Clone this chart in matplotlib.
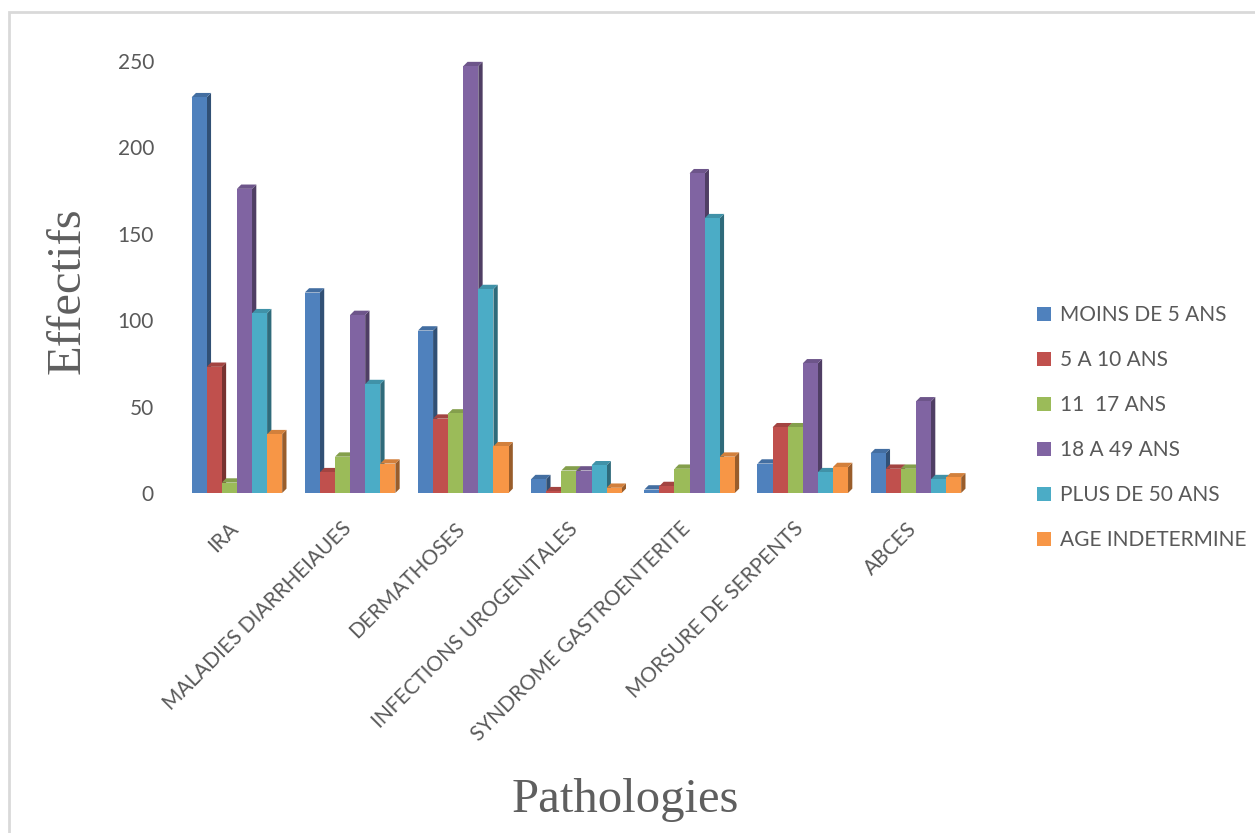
import numpy as np
import matplotlib
matplotlib.use('Agg')
import matplotlib.pyplot as plt
import matplotlib.transforms as mtransforms
from matplotlib.patches import Polygon, Rectangle, Patch
from matplotlib.colors import to_rgb

plt.rcParams['font.family'] = ['Lato', 'DejaVu Sans']

pathologies = ['IRA', 'MALADIES DIARRHEIAUES', 'DERMATHOSES', 'INFECTIONS UROGENITALES',
               'SYNDROME GASTROENTERITE', 'MORSURE DE SERPENTS', 'ABCES']
age_groups = ['MOINS DE 5 ANS', '5 A 10 ANS', '11  17 ANS', '18 A 49 ANS',
              'PLUS DE 50 ANS', 'AGE INDETERMINE']

moins_5 = [229, 116, 94, 8, 2, 17, 23]
de_5_a_10 = [73, 12, 43, 1, 4, 38, 14]
de_11_a_17 = [6, 21, 46, 13, 14, 38, 14]
de_18_a_49 = [176, 103, 247, 13, 185, 75, 53]
plus_50 = [104, 63, 118, 16, 159, 12, 8]
indetermine = [34, 17, 27, 3, 21, 15, 9]
series = [moins_5, de_5_a_10, de_11_a_17, de_18_a_49, plus_50, indetermine]

colors = ['#4F81BD', '#C0504D', '#9BBB59', '#8064A2', '#4BACC6', '#F79646']
text_gray = '#595959'


def shade(c, k):
    r, g, b = to_rgb(c)
    return (r * k, g * k, b * k)


fig = plt.figure(figsize=(12.55, 8.33), dpi=100)
ax = fig.add_axes([0.1437, 0.4082, 0.6312, 0.5186])

n = len(series)
group = 0.8
w = group / n
depth_x = 0.038   # fake 3d depth, data units
depth_y = 2.5
x = np.arange(len(pathologies))

for j in range(len(pathologies)):
    for i in range(n):
        v = series[i][j]
        left = x[j] - group / 2 + i * w
        c = colors[i]
        ax.add_patch(Polygon([(left + w, 0), (left + w, v), (left + w + depth_x, v + depth_y),
                              (left + w + depth_x, depth_y)], closed=True,
                             facecolor=shade(c, 0.62), edgecolor='none', clip_on=False))
        ax.add_patch(Polygon([(left, v), (left + w, v), (left + w + depth_x, v + depth_y),
                              (left + depth_x, v + depth_y)], closed=True,
                             facecolor=shade(c, 0.85), edgecolor='none', clip_on=False))
        ax.add_patch(Rectangle((left, 0), w, v, facecolor=c, edgecolor='none', clip_on=False))

ax.set_xlim(-0.5, len(pathologies) - 0.5)
ax.set_ylim(0, 250)
ax.set_yticks([0, 50, 100, 150, 200, 250])
ax.set_xticks(x)
ax.set_xticklabels(pathologies, rotation=45, ha='right', va='center', rotation_mode='anchor')
ax.tick_params(axis='both', length=0, colors=text_gray, labelsize=15)
ax.tick_params(axis='y', pad=19)
ax.tick_params(axis='x', pad=22)
shift = mtransforms.ScaledTranslation(-0.02, -0.02, fig.dpi_scale_trans)
for lbl in ax.get_xticklabels():
    lbl.set_transform(lbl.get_transform() + shift)
for s in ax.spines.values():
    s.set_visible(False)

fig.text(0.054, 0.651, 'Effectifs', rotation=90, ha='center', va='center',
         family='Liberation Serif', fontsize=35, color='#5F5F5F')
fig.text(0.498, 0.040, 'Pathologies', ha='center', va='center',
         family='Liberation Serif', fontsize=35, color='#5F5F5F')

handles = [Patch(facecolor=c, edgecolor='none') for c in colors]
fig.legend(handles, age_groups, loc='center left', bbox_to_anchor=(0.826, 0.4862),
           frameon=False, fontsize=15, labelcolor=text_gray, handlelength=0.7,
           handleheight=0.7, handletextpad=0.4, labelspacing=1.2, borderpad=0,
           borderaxespad=0)

# light chart-area border running off the right and bottom edges
fig.add_artist(Rectangle((0.0068, -0.05), 1.1, 1.0356, transform=fig.transFigure,
                         facecolor='none', edgecolor='#D9D9D9', linewidth=2))

fig.savefig('out.png', dpi=100)
